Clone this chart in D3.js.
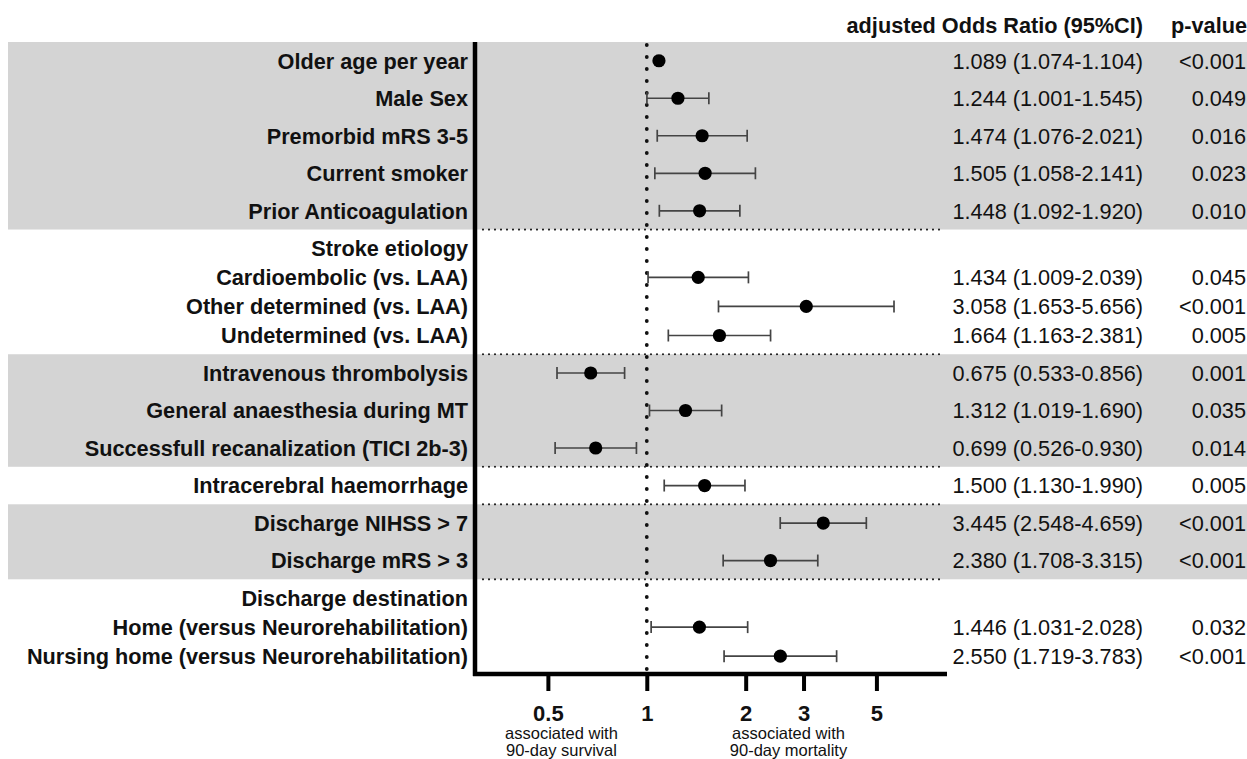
<!DOCTYPE html>
<html>
<head>
<meta charset="utf-8">
<script src="https://cdn.jsdelivr.net/npm/d3@7"></script>
<style>
  body { margin: 0; background: #fff; }
  svg { display: block; font-family: "Liberation Sans", Arial, sans-serif; }
</style>
</head>
<body>
<div id="chart"></div>
<script>
// rows of the forest plot, top to bottom
const labels = [
  "Older age per year", "Male Sex", "Premorbid mRS 3-5", "Current smoker", "Prior Anticoagulation",
  "Stroke etiology", "Cardioembolic (vs. LAA)", "Other determined (vs. LAA)", "Undetermined (vs. LAA)",
  "Intravenous thrombolysis", "General anaesthesia during MT", "Successfull recanalization (TICI 2b-3)",
  "Intracerebral haemorrhage",
  "Discharge NIHSS > 7", "Discharge mRS > 3",
  "Discharge destination", "Home (versus Neurorehabilitation)", "Nursing home (versus Neurorehabilitation)"
];
// 'row' = normal, 'head' = group heading, 'sub' = sub-item under a heading
const kinds = ["row","row","row","row","row","head","sub","sub","sub","row","row","row","row","row","row","head","sub","sub"];
const groups = [0,0,0,0,0,1,1,1,1,2,2,2,3,4,4,5,5,5];

const oddsRatio = [1.089, 1.244, 1.474, 1.505, 1.448, null, 1.434, 3.058, 1.664, 0.675, 1.312, 0.699, 1.500, 3.445, 2.380, null, 1.446, 2.550];
const ciLow     = [1.074, 1.001, 1.076, 1.058, 1.092, null, 1.009, 1.653, 1.163, 0.533, 1.019, 0.526, 1.130, 2.548, 1.708, null, 1.031, 1.719];
const ciHigh    = [1.104, 1.545, 2.021, 2.141, 1.920, null, 2.039, 5.656, 2.381, 0.856, 1.690, 0.930, 1.990, 4.659, 3.315, null, 2.028, 3.783];
const pValues   = ["<0.001","0.049","0.016","0.023","0.010", null, "0.045","<0.001","0.005","0.001","0.035","0.014","0.005","<0.001","<0.001", null, "0.032","<0.001"];

const tickValues = [0.5, 1, 2, 3, 5];
const headers = ["adjusted Odds Ratio (95%CI)", "p-value"];
const notes = [
  {at: 0.55, lines: ["associated with", "90-day survival"]},
  {at: 2.7, lines: ["associated with", "90-day mortality"]}
];

const width = 1247, height = 759;
const subStep = 0.775;

// row positions: sub-items sit a bit closer together
const pos = [];
kinds.forEach((k, i) => {
  if (i === 0) pos.push(0);
  else pos.push(pos[i - 1] + (k === "sub" ? subStep : 1));
});

const rows = labels.map((name, i) => ({
  name, kind: kinds[i], group: groups[i], pos: pos[i],
  or: oddsRatio[i], lo: ciLow[i], hi: ciHigh[i], p: pValues[i]
}));

const plotLeft = 475, plotRight = 947, plotTop = 42, plotBottom = 674;

const x = d3.scaleLog().domain([0.3, 8.2]).range([plotLeft, plotRight]);
const y = d3.scaleLinear().domain([-0.5, 16.35]).range([plotTop, plotBottom]);

const svg = d3.select("#chart").append("svg")
  .attr("width", width)
  .attr("height", height);

// group bands
const bands = d3.groups(rows, d => d.group).map(([g, rs]) => ({
  group: g,
  top: d3.min(rs, d => d.pos) - 0.5,
  bottom: d3.max(rs, d => d.pos) + 0.5
}));

svg.selectAll(".band")
  .data(bands.filter(b => b.group % 2 === 0))
  .join("rect")
  .attr("class", "band")
  .attr("x", 8)
  .attr("width", width - 8)
  .attr("y", d => y(d.top))
  .attr("height", d => y(d.bottom) - y(d.top))
  .attr("fill", "#d4d4d4");

// dotted separators between groups (plot area only)
svg.selectAll(".sep")
  .data(bands.slice(1))
  .join("line")
  .attr("class", "sep")
  .attr("x1", plotLeft + 8)
  .attr("x2", plotRight - 5)
  .attr("y1", d => y(d.top))
  .attr("y2", d => y(d.top))
  .attr("stroke", "#222")
  .attr("stroke-width", 2.2)
  .attr("stroke-linecap", "round")
  .attr("stroke-dasharray", "0 6");

// reference line at OR = 1
svg.append("line")
  .attr("x1", x(1)).attr("x2", x(1))
  .attr("y1", plotTop + 3).attr("y2", plotBottom)
  .attr("stroke", "#111")
  .attr("stroke-width", 3.8)
  .attr("stroke-linecap", "round")
  .attr("stroke-dasharray", "0 12");

// labels
svg.selectAll(".label")
  .data(rows)
  .join("text")
  .attr("class", "label")
  .attr("x", 468)
  .attr("y", d => y(d.pos))
  .attr("dy", "0.36em")
  .attr("text-anchor", "end")
  .attr("font-size", 21.7)
  .attr("font-weight", "bold")
  .attr("fill", "#111")
  .text(d => d.name);

const data = rows.filter(d => d.or != null);

// error bars
const bar = svg.selectAll(".ci")
  .data(data)
  .join("g")
  .attr("class", "ci")
  .attr("stroke", "#444")
  .attr("stroke-width", 1.7);

bar.append("line")
  .attr("x1", d => x(d.lo)).attr("x2", d => x(d.hi))
  .attr("y1", d => y(d.pos)).attr("y2", d => y(d.pos));
bar.append("line")
  .attr("x1", d => x(d.lo)).attr("x2", d => x(d.lo))
  .attr("y1", d => y(d.pos) - 6).attr("y2", d => y(d.pos) + 6);
bar.append("line")
  .attr("x1", d => x(d.hi)).attr("x2", d => x(d.hi))
  .attr("y1", d => y(d.pos) - 6).attr("y2", d => y(d.pos) + 6);

svg.selectAll(".pt")
  .data(data)
  .join("circle")
  .attr("class", "pt")
  .attr("cx", d => x(d.or))
  .attr("cy", d => y(d.pos))
  .attr("r", 6.6)
  .attr("fill", "#000");

// value columns
const fmt = d3.format(".3f");
svg.selectAll(".val")
  .data(data)
  .join("text")
  .attr("class", "val")
  .attr("x", 1143)
  .attr("y", d => y(d.pos))
  .attr("dy", "0.36em")
  .attr("text-anchor", "end")
  .attr("font-size", 21.7)
  .attr("fill", "#111")
  .text(d => `${fmt(d.or)} (${fmt(d.lo)}-${fmt(d.hi)})`);

svg.selectAll(".pval")
  .data(data)
  .join("text")
  .attr("class", "pval")
  .attr("x", 1246)
  .attr("y", d => y(d.pos))
  .attr("dy", "0.36em")
  .attr("text-anchor", "end")
  .attr("font-size", 21.7)
  .attr("fill", "#111")
  .text(d => d.p);

svg.selectAll(".head")
  .data(headers)
  .join("text")
  .attr("class", "head")
  .attr("x", (d, i) => i === 0 ? 1143 : 1247)
  .attr("y", 33)
  .attr("text-anchor", "end")
  .attr("font-size", 21.7)
  .attr("font-weight", "bold")
  .attr("fill", "#111")
  .text(d => d);

// axes
svg.append("line")
  .attr("x1", plotLeft).attr("x2", plotLeft)
  .attr("y1", plotTop).attr("y2", plotBottom + 2)
  .attr("stroke", "#000")
  .attr("stroke-width", 4.5);

const xAxis = svg.append("g")
  .attr("transform", `translate(0,${plotBottom})`)
  .call(d3.axisBottom(x)
    .tickValues(tickValues)
    .tickFormat(d3.format("~g"))
    .tickSize(17)
    .tickSizeOuter(0)
    .tickPadding(14));

xAxis.select(".domain")
  .attr("d", `M${plotLeft - 2},0H${plotRight}`)
  .attr("stroke", "#000")
  .attr("stroke-width", 4.5);
xAxis.selectAll(".tick line")
  .attr("stroke", "#000")
  .attr("stroke-width", 4);
xAxis.selectAll(".tick text")
  .attr("font-family", "Liberation Sans, Arial, sans-serif")
  .attr("font-size", 22)
  .attr("font-weight", "bold")
  .attr("fill", "#111");

const note = svg.selectAll(".note")
  .data(notes)
  .join("text")
  .attr("class", "note")
  .attr("text-anchor", "middle")
  .attr("font-size", 16.5)
  .attr("fill", "#111");

note.selectAll("tspan")
  .data(d => d.lines.map(l => ({at: d.at, l})))
  .join("tspan")
  .attr("x", d => x(d.at))
  .attr("y", (d, i) => 739 + i * 17)
  .text(d => d.l);
</script>
</body>
</html>
